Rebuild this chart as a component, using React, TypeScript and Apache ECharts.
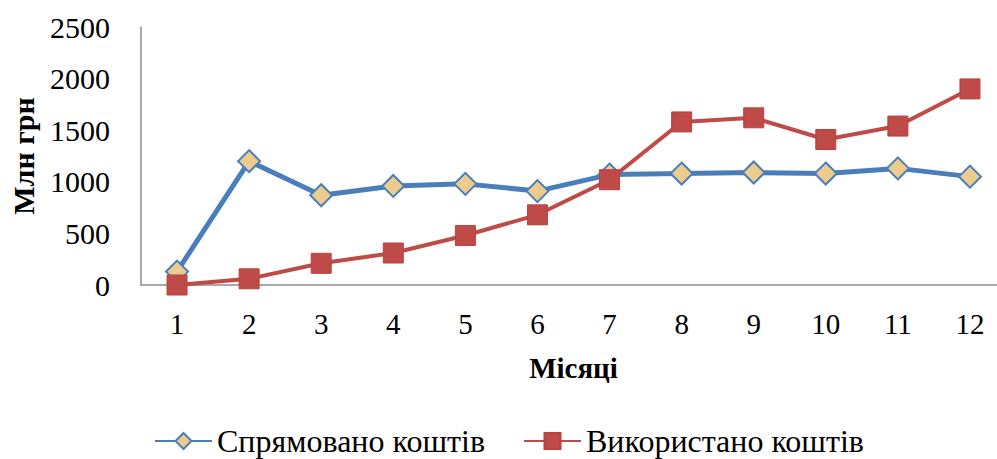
import React, { useEffect, useRef } from "react";
import * as echarts from "echarts";

const months = ["1", "2", "3", "4", "5", "6", "7", "8", "9", "10", "11", "12"];
const directed = [130, 1200, 870, 960, 980, 910, 1070, 1080, 1090, 1080, 1130, 1050];
const used = [0, 60, 210, 310, 480, 680, 1020, 1580, 1620, 1410, 1540, 1900];
const seriesNames = ["Спрямовано коштів", "Використано коштів"];
const yTicks = { min: 0, max: 2500, interval: 500 };

const FONT = "'Liberation Serif', 'Times New Roman', serif";

export default function App() {
  const ref = useRef<HTMLDivElement>(null);
  useEffect(() => {
    if (!ref.current) return;
    const chart = echarts.init(ref.current, null, { renderer: "svg" });
    chart.setOption({
      animation: false,
      backgroundColor: "#ffffff",
      grid: {
        left: 141,
        top: 27,
        right: 4,
        bottom: 174,
        containLabel: false,
        outerBoundsMode: "none",
      },
      legend: {
        data: seriesNames,
        left: 149,
        top: 420,
        itemWidth: 57,
        itemHeight: 20,
        itemGap: 38,
        textStyle: { fontFamily: FONT, fontSize: 32, color: "#000" },
      },
      xAxis: {
        type: "category",
        data: months,
        boundaryGap: true,
        name: "Місяці",
        nameLocation: "middle",
        nameGap: 68,
        nameTextStyle: { fontFamily: FONT, fontSize: 29, fontWeight: "bold", color: "#000" },
        axisLine: { show: true, lineStyle: { color: "#8c8c8c", width: 1.5 } },
        axisTick: { show: false },
        axisLabel: { fontFamily: FONT, fontSize: 29, color: "#000", margin: 24 },
      },
      yAxis: {
        type: "value",
        min: yTicks.min,
        max: yTicks.max,
        interval: yTicks.interval,
        name: "Млн грн",
        nameLocation: "middle",
        nameGap: 103,
        nameRotate: 90,
        nameTextStyle: { fontFamily: FONT, fontSize: 30, fontWeight: "bold", color: "#000" },
        axisLine: { show: true, lineStyle: { color: "#8c8c8c", width: 1.5 } },
        axisTick: { show: false },
        splitLine: { show: false },
        axisLabel: {
          fontFamily: FONT,
          fontSize: 30,
          color: "#000",
          margin: 31,
          formatter: (v: number) => String(v),
        },
      },
      series: [
        {
          name: seriesNames[0],
          type: "line",
          data: directed,
          symbol: "diamond",
          symbolSize: 22,
          lineStyle: { color: "#4a7ebb", width: 5 },
          itemStyle: { color: "#ebcb8e", borderColor: "#4a7ebb", borderWidth: 2 },
        },
        {
          name: seriesNames[1],
          type: "line",
          data: used,
          symbol: "rect",
          symbolSize: 20,
          lineStyle: { color: "#be4b48", width: 4 },
          itemStyle: { color: "#be4b48", borderColor: "#b8433f", borderWidth: 1 },
        },
      ],
    });
    return () => chart.dispose();
  }, []);
  return (
    <div
      style={{
        position: "absolute",
        left: 0,
        top: 0,
        width: 997,
        height: 459,
        overflow: "hidden",
        background: "#fff",
      }}
    >
      <div ref={ref} style={{ width: 1010, height: 459 }} />
    </div>
  );
}
